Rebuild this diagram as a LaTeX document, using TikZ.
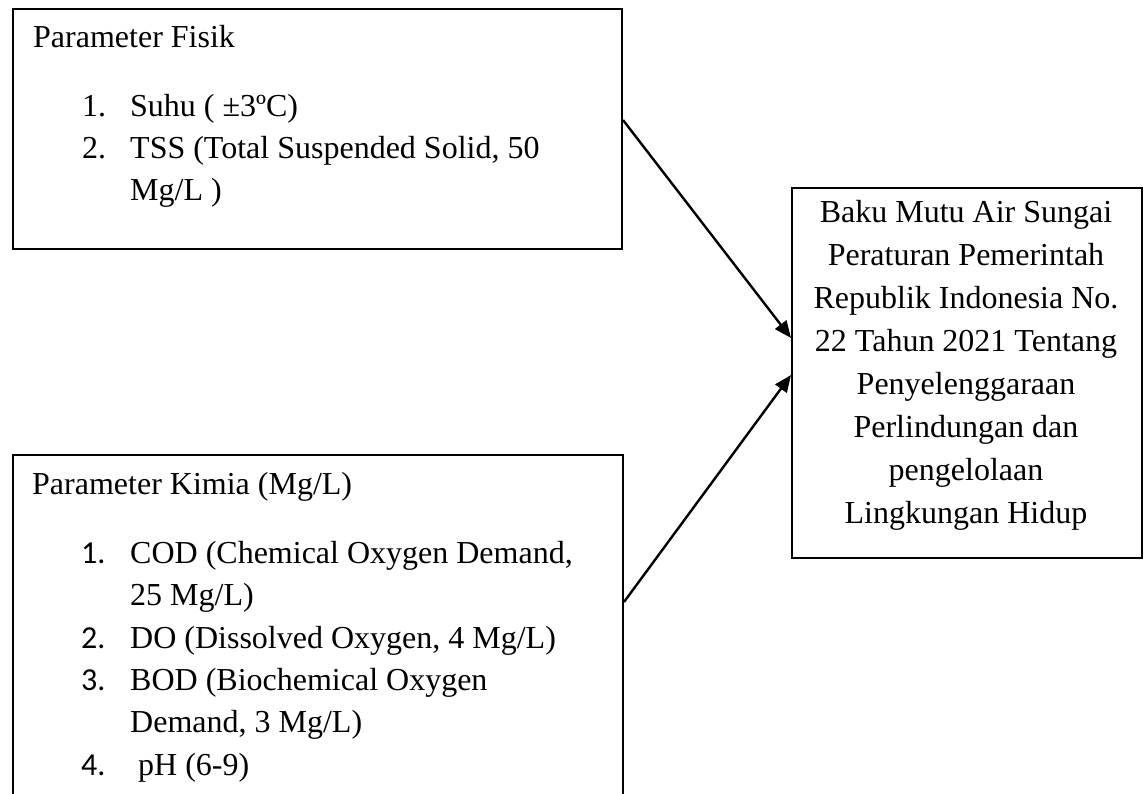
\documentclass[tikz,border=0pt]{standalone}
\usepackage{fontspec}
\setmainfont{Liberation Serif}
\newfontfamily\numfont{Carlito}
\usetikzlibrary{arrows.meta,calc}
\begin{document}
\begin{tikzpicture}[x=1pt,y=-1pt,
  every node/.style={font=\fontsize{32}{42.4}\selectfont},
  boxstyle/.style={draw=black,line width=2pt,fill=none,inner sep=0pt,anchor=north west},
  txt/.style={anchor=base west,inner sep=0pt},
  ctxt/.style={anchor=base,inner sep=0pt},
  arrowline/.style={line width=2.4pt,-{Triangle[length=17pt,width=14pt]}}]
\useasboundingbox (0,0) rectangle (1147,793);
\clip (0,0) rectangle (1147,793);
% boxes
\node[boxstyle,minimum width=609pt,minimum height=240pt] (b1) at (12,8) {};
\node[boxstyle,minimum width=610pt,minimum height=360pt] (b2) at (12,454) {};
\node[boxstyle,minimum width=350pt,minimum height=370pt] (b3) at (791,187) {};
% box 1 texts
\node[txt] (t1h) at (33,47) {Parameter Fisik};
\node[txt] (t1n1) at (82,116) {1.};
\node[txt] (t1i1) at (130,116) {Suhu ( ±3ºC)};
\node[txt] (t1n2) at (82,158) {2.};
\node[txt] (t1i2) at (130,158) {TSS (Total Suspended Solid, 50};
\node[txt] (t1i2b) at (130,200) {Mg/L )};
% box 2 texts
\node[txt] (t2h) at (32,494) {Parameter Kimia (Mg/L)};
\node[txt] (t2n1) at (81,563) {\numfont 1.};
\node[txt] (t2i1) at (130,563) {COD (Chemical Oxygen Demand,};
\node[txt] (t2i1b) at (130,605) {25 Mg/L)};
\node[txt] (t2n2) at (81,648) {\numfont 2.};
\node[txt] (t2i2) at (130,648) {DO (Dissolved Oxygen, 4 Mg/L)};
\node[txt] (t2n3) at (81,690) {\numfont 3.};
\node[txt] (t2i3) at (130,690) {BOD (Biochemical Oxygen};
\node[txt] (t2i3b) at (130,732) {Demand, 3 Mg/L)};
\node[txt] (t2n4) at (81,775) {\numfont 4.};
\node[txt] (t2i4) at (138,775) {pH (6-9)};
% box 3 texts
\node[ctxt] (t3a) at (966,222) {Baku Mutu Air Sungai};
\node[ctxt] (t3b) at (966,265) {Peraturan Pemerintah};
\node[ctxt] (t3c) at (966,308) {Republik Indonesia No.};
\node[ctxt] (t3d) at (966,351) {22 Tahun 2021 Tentang};
\node[ctxt] (t3e) at (966,394) {Penyelenggaraan};
\node[ctxt] (t3f) at (966,437) {Perlindungan dan};
\node[ctxt] (t3g) at (966,480) {pengelolaan};
\node[ctxt] (t3h) at (966,523) {Lingkungan Hidup};
% arrows
\draw[arrowline] ($(b1.north east)+(0,112)$) -- ($(b3.north west)+(0,151)$);
\draw[arrowline] ($(b2.north east)+(0,148)$) -- ($(b3.north west)+(0,188)$);
\end{tikzpicture}
\end{document}
